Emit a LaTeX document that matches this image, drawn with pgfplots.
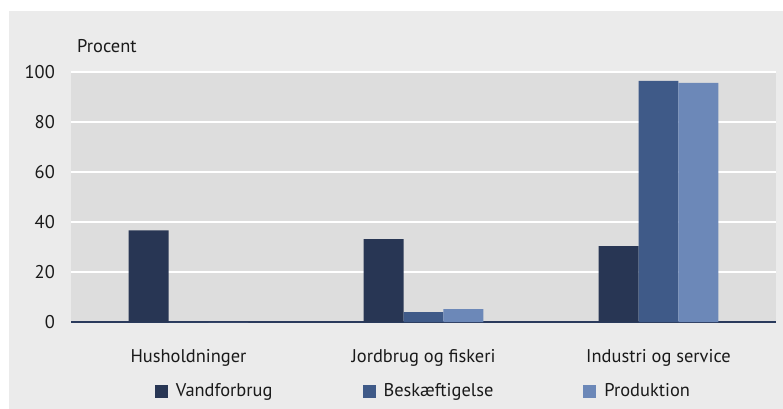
\documentclass[border=0pt]{standalone}
\usepackage{fontspec}
\setmainfont{PT Sans}
\usepackage{pgfplots}
\pgfplotsset{compat=1.18}
\definecolor{cPanel}{HTML}{EBEBEB}
\definecolor{cPlot}{HTML}{DDDDDD}
\definecolor{cVand}{HTML}{283654}
\definecolor{cBesk}{HTML}{3F5A88}
\definecolor{cProd}{HTML}{6C88B8}
\definecolor{cAxis}{HTML}{2A3A5C}
\definecolor{cTxt}{HTML}{1A1A1A}

\begin{document}
\begin{tikzpicture}
% outer frame and light panel
\fill[white] (-71bp,-87bp) rectangle (712bp,322bp);
\fill[cPanel] (-62bp,-87bp) rectangle (712bp,311bp);
\begin{axis}[
  scale only axis, width=705bp, height=250bp,
  xmin=-0.5, xmax=2.5, ymin=0, ymax=100,
  xtick={0,1,2},
  xticklabels={Husholdninger, Jordbrug og fiskeri, Industri og service},
  ytick={0,20,40,60,80,100},
  axis background/.style={fill=cPlot},
  ymajorgrids, grid style={white, line width=2bp},
  axis x line*=bottom, axis y line*=left,
  x axis line style={draw=cAxis, line width=2bp},
  y axis line style={draw=none},
  major tick length=0pt, tick style={draw=none},
  tick label style={font=\fontsize{18.5}{21}\selectfont, text=cTxt},
  /pgf/number format/assume math mode=true,
  yticklabel style={anchor=east, inner sep=0pt, xshift=-16bp},
  xticklabel style={anchor=base, inner sep=0pt, yshift=-40bp},
  bar width=0.17,
  legend style={draw=none, fill=none, at={(0.5,-0.276)}, anchor=center,
    legend columns=3, font=\fontsize{18.5}{21}\selectfont, text=cTxt,
    /tikz/every even column/.append style={column sep=88bp},
    /tikz/every odd column/.append style={column sep=6bp}},
  legend image code/.code={\fill[#1] (0bp,-6.5bp) rectangle (13bp,6.5bp);},
]
\addplot[ybar, bar shift=-0.17, fill=cVand, draw=none] coordinates {(0,36.7) (1,33.2) (2,30.4)};
\addlegendentry{Vandforbrug}
\addplot[ybar, bar shift=0, fill=cBesk, draw=none] coordinates {(0,0) (1,4.0) (2,96.4)};
\addlegendentry{Beskæftigelse}
\addplot[ybar, bar shift=0.17, fill=cProd, draw=none] coordinates {(0,0) (1,5.2) (2,95.6)};
\addlegendentry{Produktion}
\end{axis}
\node[anchor=base west, inner sep=0pt, font=\fontsize{18.5}{21}\selectfont, text=cTxt] at (6bp,269bp) {Procent};
\pgfresetboundingbox
\useasboundingbox (-71bp,-87bp) rectangle (712bp,322bp);
\end{tikzpicture}
\end{document}
